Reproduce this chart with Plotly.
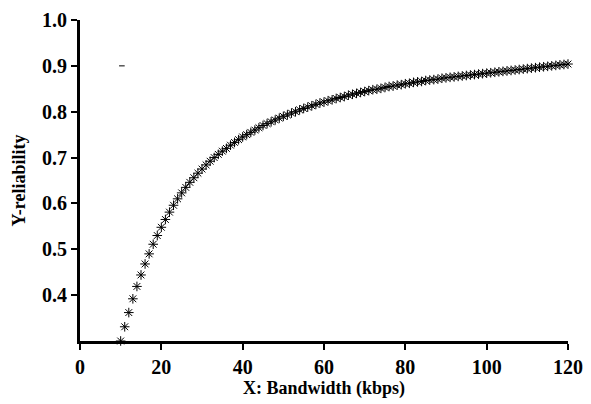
import plotly.graph_objects as go

bandwidth = list(range(10, 121))
reliability = [
    0.300, 0.331, 0.362, 0.392, 0.419, 0.444, 0.468, 0.490, 0.511, 0.530,
    0.548, 0.565, 0.581, 0.596, 0.610, 0.623, 0.635, 0.646, 0.656, 0.666,
    0.675, 0.684, 0.692, 0.700, 0.707, 0.714, 0.720, 0.727, 0.733, 0.739,
    0.745, 0.750, 0.755, 0.760, 0.765, 0.770, 0.774, 0.778, 0.782, 0.786,
    0.790, 0.793, 0.797, 0.800, 0.804, 0.807, 0.810, 0.813, 0.816, 0.819,
    0.821, 0.824, 0.826, 0.829, 0.831, 0.833, 0.836, 0.838, 0.840, 0.842,
    0.844, 0.846, 0.848, 0.849, 0.851, 0.853, 0.855, 0.856, 0.858, 0.859,
    0.861, 0.862, 0.864, 0.865, 0.866, 0.868, 0.869, 0.870, 0.871, 0.873,
    0.874, 0.875, 0.876, 0.877, 0.878, 0.879, 0.880, 0.881, 0.882, 0.883,
    0.884, 0.885, 0.886, 0.887, 0.888, 0.889, 0.890, 0.891, 0.892, 0.893,
    0.894, 0.895, 0.896, 0.897, 0.898, 0.899, 0.900, 0.901, 0.902, 0.903,
    0.904,
]
stray_x = [10.3]
stray_y = [0.9]

x_ticks = [0, 20, 40, 60, 80, 100, 120]
y_ticks = [0.4, 0.5, 0.6, 0.7, 0.8, 0.9, 1.0]
y_tick_text = ["0.4", "0.5", "0.6", "0.7", "0.8", "0.9", "1.0"]

font_family = "Liberation Serif, Times New Roman, serif"

fig = go.Figure()
fig.add_trace(go.Scatter(
    x=bandwidth, y=reliability, mode="markers",
    marker=dict(symbol="asterisk-open", size=8, color="black",
                line=dict(color="black", width=1)),
    showlegend=False, cliponaxis=False,
))
fig.add_trace(go.Scatter(
    x=stray_x, y=stray_y, mode="markers",
    marker=dict(symbol="line-ew-open", size=4, color="black",
                line=dict(color="black", width=1)),
    showlegend=False,
))

fig.update_layout(
    width=591, height=404,
    margin=dict(l=72, r=31, t=12, b=71),
    paper_bgcolor="white", plot_bgcolor="white",
    font=dict(family=font_family, color="black"),
)
fig.update_xaxes(
    range=[0, 120], tickvals=x_ticks, ticks="outside", ticklen=6, tickwidth=2,
    tickcolor="black", showline=True, linecolor="black", linewidth=3,
    showgrid=False, zeroline=False, automargin=False,
    tickfont=dict(family=font_family, size=20, color="black", weight="bold"),
    title=dict(text="<b>X: Bandwidth (kbps)</b>",
               font=dict(family=font_family, size=18, color="black"), standoff=4),
)
fig.update_yaxes(
    range=[0.3, 1.0], tickvals=y_ticks, ticktext=y_tick_text, ticks="outside",
    ticklen=6, tickwidth=2, tickcolor="black", showline=True, linecolor="black",
    linewidth=3, showgrid=False, zeroline=False, automargin=False,
    tickfont=dict(family=font_family, size=20, color="black", weight="bold"),
    title=dict(text="<b>Y-reliability</b>",
               font=dict(family=font_family, size=18, color="black"), standoff=12),
)

fig.write_html("out.html")
